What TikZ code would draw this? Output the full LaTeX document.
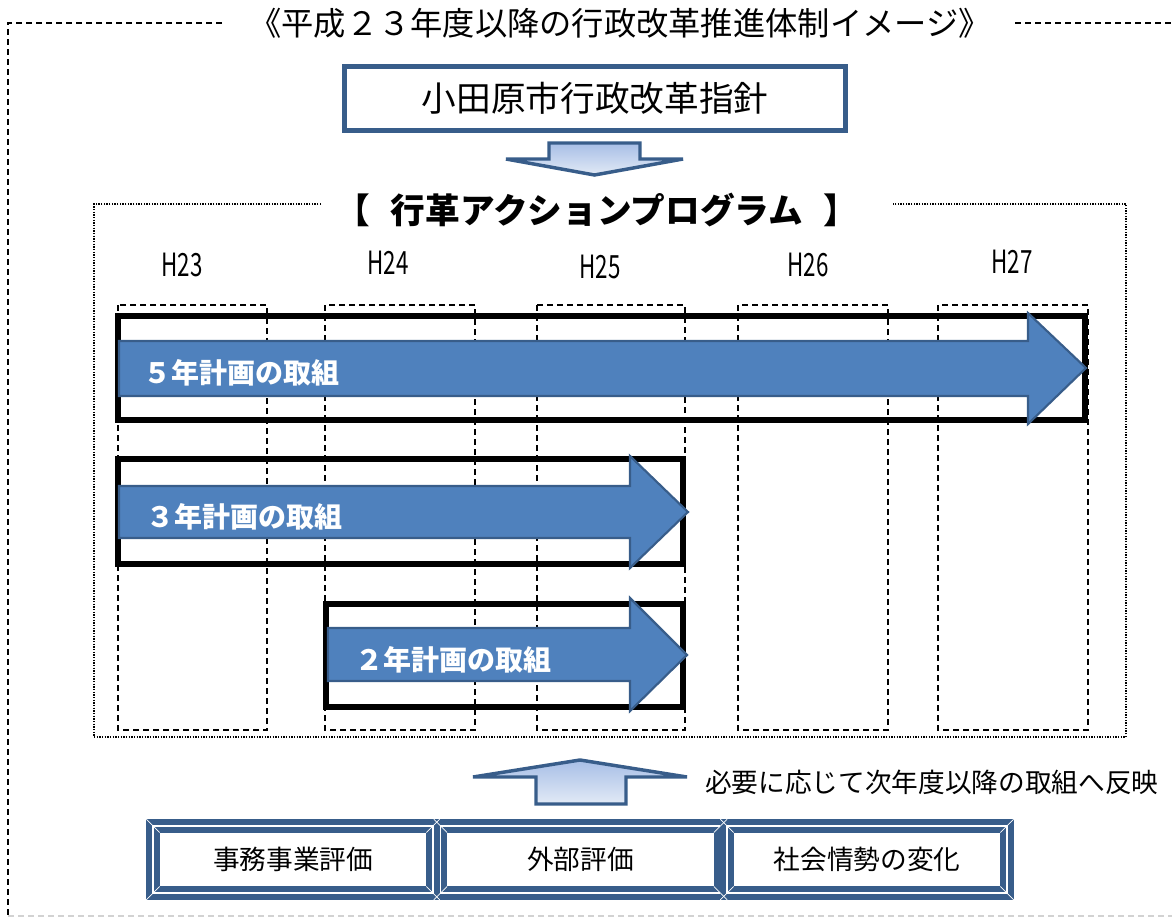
\documentclass[tikz,border=0pt]{standalone}
\usepackage{fontspec}
\usetikzlibrary{calc}
\setmainfont{Noto Sans CJK JP}
\newfontfamily\yearfont[FakeStretch=0.7]{Noto Sans CJK JP}
\definecolor{frameblue}{RGB}{56,93,138}
\definecolor{planblue}{RGB}{79,129,189}
\definecolor{shadetop}{RGB}{167,190,230}
\definecolor{shadebot}{RGB}{226,234,246}
\tikzset{
  planbox/.style={draw=black,line width=4.5pt},
  planarrow/.style={fill=planblue,draw=frameblue,line width=1.6pt,line join=miter},
  planlabel/.style={anchor=west,text=white,inner sep=0pt,font=\bfseries\fontsize{21}{21}\selectfont},
  yearcol/.style={draw=black,line width=0.9pt,dash pattern=on 4.5pt off 3pt},
  yearlabel/.style={inner sep=0pt,font=\yearfont\fontsize{24}{24}\selectfont},
  guidebox/.style={draw=frameblue,line width=3.75pt,minimum width=376pt,minimum height=48pt,font=\fontsize{26}{26}\selectfont},
  evalbox/.style={draw=frameblue,line width=4.5pt,double=white,double distance=1.1pt,outer sep=0pt,
    minimum width=210pt,minimum height=50.5pt,font=\fontsize{20}{20}\selectfont},
  flowarrow/.style={draw=frameblue,line width=2.6pt,line join=miter,top color=shadetop,bottom color=shadebot}
}
\begin{document}
\begin{tikzpicture}[x=0.75pt,y=-0.75pt]
\useasboundingbox (0,0) rectangle (1172,918);
% outer frame
\node[font=\fontsize{24.2}{24.2}\selectfont] (title) at (620,23) {《平成２３年度以降の行政改革推進体制イメージ》};
\draw[line width=1pt,dash pattern=on 4.5pt off 3pt] (222,23) -- (8,23) -- (8,916);
\draw[line width=1pt,dash pattern=on 4.5pt off 3pt] (1015,23) -- (1172,23);
\draw[gray!35,line width=1pt,dash pattern=on 4.5pt off 3pt] (8,916) -- (1172,916);
\node[guidebox] (guide) at (595,98.5) {小田原市行政改革指針};
\draw[flowarrow] (549,143) -- (640,143) -- (640,159) -- (683,159) -- (594.5,175) -- (506,159) -- (549,159) -- cycle;
% action program
\node[font=\bfseries\fontsize{26}{26}\selectfont] (program) at (597,210) {【\hspace{0.6em}行革アクションプログラム\hspace{0.6em}】};
\draw[line width=0.9pt,dash pattern=on 1pt off 1pt] (321,204) -- (94,204) -- (94,737) -- (1126,737) -- (1126,204) -- (893,204);
\foreach \yr/\px/\py in {23/182/265,24/388/263,25/600/267,26/808/265,27/1012/262}
  \node[yearlabel] (h\yr) at (\px,\py) {H\yr};
\foreach \xa/\xb in {118/267,325/475,537/685,738/888,938/1088}
  \draw[yearcol] (\xa,305) rectangle (\xb,730);
\draw[planbox] (118,316) rectangle (1085,420);
\draw[planbox] (118,459) rectangle (683,564);
\draw[planbox] (326,604) rectangle (683,707);
\draw[planarrow] (119,341) -- (1028,341) -- (1028,313) -- (1086,368) -- (1028,424) -- (1028,396) -- (119,396) -- cycle;
\draw[planarrow] (119,486) -- (630,486) -- (630,456) -- (688,512) -- (630,568) -- (630,538) -- (119,538) -- cycle;
\draw[planarrow] (328,628) -- (630,628) -- (630,598) -- (687,655) -- (630,711) -- (630,681) -- (328,681) -- cycle;
\node[planlabel] (plan5) at (143,373) {５年計画の取組};
\node[planlabel] (plan3) at (146,517) {３年計画の取組};
\node[planlabel] (plan2) at (355,660) {２年計画の取組};
% feedback
\draw[flowarrow] (536,804) -- (536,777) -- (473,777) -- (580,760) -- (687,777) -- (626,777) -- (626,804) -- cycle;
\node[anchor=west,inner sep=0pt,font=\fontsize{20}{20}\selectfont] (reflect) at (705,782) {必要に応じて次年度以降の取組へ反映};
\node[evalbox] (eval1) at (293,859.5) {事務事業評価};
\node[evalbox] (eval2) at (580.5,859.5) {外部評価};
\node[evalbox] (eval3) at (867,859.5) {社会情勢の変化};
\foreach \b in {eval1,eval2,eval3}
  \foreach \a/\sx/\sy in {north west/-1/1,north east/1/1,south west/-1/-1,south east/1/-1}
    \draw[white,line width=0.6pt] ($(\b.\a)+(\sx*5pt,\sy*5pt)$) -- ($(\b.\a)-(\sx*5pt,\sy*5pt)$);
\end{tikzpicture}
\end{document}
